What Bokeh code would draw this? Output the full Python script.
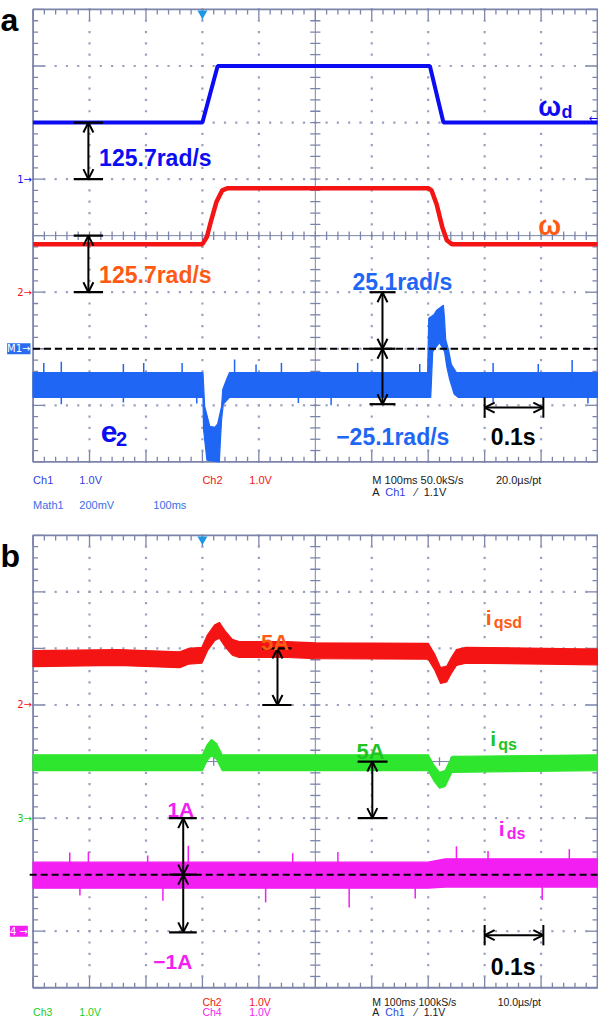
import numpy as np
from bokeh.plotting import figure
from bokeh.models import Range1d, Arrow, OpenHead, Label
from bokeh.layouts import column
from bokeh.embed import file_html
from bokeh.resources import INLINE

FONT = "Liberation Sans"

# ---------------- data: screen divisions (x 0..10, 0.1 s/div ; y -4..4) ----------------
# panel a
wd_t = [0.0, 3.0, 3.27, 7.03, 7.27, 10.0]
wd_v = [2.0, 2.0, 3.0, 3.0, 2.0, 2.0]

w_t = [0.0, 3.0, 3.08, 3.15, 3.25, 3.35, 3.45, 7.0, 7.06, 7.15, 7.25, 7.33, 7.42, 10.0]
w_v = [-0.15, -0.15, -0.02, 0.25, 0.6, 0.8, 0.84, 0.84, 0.8, 0.55, 0.15, -0.08, -0.15, -0.15]

e2_up_t = [0.0, 3.01, 3.04, 3.13, 3.22, 3.27, 3.34, 3.36, 3.43, 3.48,
           6.99, 7.01, 7.10, 7.15, 7.27, 7.29, 7.31, 7.36, 7.41, 7.50, 10.0]
e2_up_v = [-2.42, -2.42, -3.02, -3.37, -3.39, -3.33, -3.02, -2.72, -2.54, -2.42,
           -2.42, -1.46, -1.40, -1.32, -1.23, -1.49, -1.84, -2.02, -2.28, -2.42, -2.42]
e2_lo_t = [0.0, 3.01, 3.02, 3.08, 3.30, 3.32, 3.34, 3.37, 3.48,
           7.045, 7.06, 7.08, 7.20, 7.29, 7.33, 7.38, 7.46, 7.53, 10.0]
e2_lo_v = [-2.86, -2.86, -3.42, -3.97, -4.0, -3.6, -3.25, -2.98, -2.86,
           -2.86, -2.51, -2.05, -1.89, -2.05, -2.32, -2.54, -2.8, -2.86, -2.86]
e2_mid = -2.64
e2_spk_t = [0.19, 0.5, 1.6, 1.96, 2.64, 3.57, 3.95, 4.4, 5.75, 6.85, 8.15, 8.95, 9.55,
            0.5, 1.6, 2.9, 5.28, 8.15, 9.83, 4.7]
e2_spk_v = [-2.25, -2.23, -2.27, -2.25, -2.25, -2.19, -2.28, -2.25, -2.25, -2.27, -2.25, -2.27, -2.2,
            -2.98, -2.95, -2.97, -3.0, -2.95, -2.97, -2.96]

# panel b
iqsd_t = [0.0, 1.5, 2.6, 2.75, 2.99, 3.09, 3.22, 3.30, 3.41, 3.53, 3.65, 4.5, 5.0,
          7.0, 7.12, 7.22, 7.33, 7.41, 7.5, 7.67, 10.0]
iqsd_c = [1.82, 1.84, 1.80, 1.86, 1.88, 2.1, 2.28, 2.32, 2.16, 2.02, 1.98, 1.98, 1.96,
          1.95, 1.75, 1.52, 1.55, 1.7, 1.84, 1.88, 1.85]
iqsd_hw = 0.14

iqs_t = [0.0, 3.0, 3.08, 3.16, 3.25, 3.35, 7.0, 7.1, 7.2, 7.3, 7.42, 10.0]
iqs_c = [-0.02, -0.02, 0.15, 0.25, 0.18, -0.02, -0.02, -0.2, -0.33, -0.3, -0.05, -0.02]
iqs_hw = 0.14

ids_t = [0.0, 7.0, 7.3, 10.0]
ids_up = [-1.78, -1.78, -1.72, -1.72]
ids_lo = [-2.24, -2.24, -2.22, -2.22]
ids_mid = -2.0
ids_spk_t = [0.65, 0.98, 2.03, 2.75, 4.6, 5.4, 7.5, 8.06, 9.5, 0.83, 2.3, 4.12, 5.6, 6.77, 9.02]
ids_spk_v = [-1.61, -1.6, -1.66, -1.49, -1.62, -1.6, -1.5, -1.58, -1.55, -2.37, -2.46, -2.49, -2.58, -2.42, -2.45]

# colours
BLUE = "#0c0cf2"
E2BLUE = "#1f66f5"
RED = "#f51414"
ORANGE = "#ff5a14"
GREEN = "#2ee62e"
GREEN_T = "#22c422"
MAGENTA = "#f21ef2"
GRAT = "#7c84aa"


def new_fig(ybot, ytop, h):
    p = figure(width=598, height=h, x_range=Range1d(-0.577, 10.017), y_range=Range1d(ybot, ytop),
               output_backend="svg", toolbar_location=None, x_axis_location=None,
               y_axis_location=None, min_border=0, outline_line_color=None,
               background_fill_color="white", border_fill_color="white")
    for g in p.grid:
        g.visible = False
    return p


def graticule(p):
    dx, dy = [], []
    fine_y = np.round(np.arange(-4, 4.001, 0.2), 3)
    fine_x = np.round(np.arange(0, 10.001, 0.2), 3)
    for gx in [1, 2, 3, 4, 6, 7, 8, 9]:
        dx += [gx] * len(fine_y)
        dy += list(fine_y)
    for gy in [-3, -2, -1, 1, 2, 3]:
        dx += list(fine_x)
        dy += [gy] * len(fine_x)
    p.scatter(dx, dy, size=2.2, marker="square", fill_color="#9aa0be", line_color=None)
    p.segment([5, 0], [-4, 0], [5, 10], [4, 0], line_color=GRAT, line_width=1)
    x0, y0, x1, y1 = [], [], [], []
    for k in fine_x:
        x0.append(k); y0.append(-0.075); x1.append(k); y1.append(0.075)
    for k in fine_y:
        x0.append(5 - 0.09); y0.append(k); x1.append(5 + 0.09); y1.append(k)
    for k in fine_x:
        ln = 0.19 if abs(k - round(k)) < 1e-6 else 0.09
        x0 += [k, k]; y0 += [4, -4]; x1 += [k, k]; y1 += [4 - ln, -4 + ln]
    for k in fine_y:
        ln = 0.19 if abs(k - round(k)) < 1e-6 else 0.09
        x0 += [0, 10]; y0 += [k, k]; x1 += [ln, 10 - ln]; y1 += [k, k]
    p.segment(x0, y0, x1, y1, line_color=GRAT, line_width=1.3)
    p.quad(left=[0], right=[10], bottom=[-4], top=[4], fill_color=None, line_color=GRAT, line_width=1.8)
    p.scatter([3.0], [3.93], marker="inverted_triangle", size=10, fill_color="#1e96e6", line_color=None)


def lab(p, x, y, text, color="black", size=11, bold=False, align="left", baseline="alphabetic",
        font=FONT, bg=None):
    kw = {}
    if bg is not None:
        kw = dict(background_fill_color=bg, background_fill_alpha=1.0)
    p.add_layout(Label(x=x, y=y, text=text, text_color=color, text_font_size=f"{size}px",
                       text_font_style="bold" if bold else "normal", text_align=align,
                       text_baseline=baseline, text_font=font, **kw))


def darrow(p, x, ya, yb):
    p.add_layout(Arrow(x_start=x, y_start=ya, x_end=x, y_end=yb, line_width=2, line_color="black",
                       start=OpenHead(size=10, line_width=2, line_color="black"),
                       end=OpenHead(size=10, line_width=2, line_color="black")))


def harrow(p, y, xa, xb):
    p.add_layout(Arrow(x_start=xa, y_start=y, x_end=xb, y_end=y, line_width=2, line_color="black",
                       start=OpenHead(size=10, line_width=2, line_color="black"),
                       end=OpenHead(size=10, line_width=2, line_color="black")))


def bars(p, ys, xa, xb):
    p.segment([xa] * len(ys), ys, [xb] * len(ys), ys, line_color="black", line_width=2.2)


def band(p, t_up, v_up, t_lo, v_lo, color):
    xs = list(t_up) + list(t_lo)[::-1]
    ys = list(v_up) + list(v_lo)[::-1]
    p.patch(xs, ys, fill_color=color, line_color=color, line_width=1.2)


# ======================= panel a =======================
pa = new_fig(-4.860, 4.158, 510)
graticule(pa)
pa.line(wd_t, wd_v, line_color=BLUE, line_width=4)
pa.line(w_t, w_v, line_color=RED, line_width=4.5)
band(pa, e2_up_t, e2_up_v, e2_lo_t, e2_lo_v, E2BLUE)
pa.segment(e2_spk_t, [e2_mid] * len(e2_spk_t), e2_spk_t, e2_spk_v, line_color=E2BLUE, line_width=1.5)
pa.segment([0], [-2.0], [10], [-2.0], line_color="black", line_width=2, line_dash="7 4")

bars(pa, [2.0, 1.0], 0.72, 1.24)
darrow(pa, 0.98, 2.0, 1.0)
bars(pa, [0.0, -1.0], 0.72, 1.24)
darrow(pa, 0.98, 0.0, -1.0)
bars(pa, [-1.0, -2.0, -2.98], 5.96, 6.42)
darrow(pa, 6.19, -2.0, -1.0)
darrow(pa, 6.19, -2.0, -2.98)
harrow(pa, -3.04, 8.0, 9.04)
pa.segment([8.0, 9.04], [-2.86, -2.86], [8.0, 9.04], [-3.22, -3.22], line_color="black", line_width=2)

lab(pa, -0.577, 3.82, "a", size=32, bold=True)
lab(pa, 1.17, 1.37, "125.7rad/s", BLUE, 23, True)
lab(pa, 1.17, -0.70, "125.7rad/s", ORANGE, 23, True)
lab(pa, 5.66, -0.82, "25.1rad/s", E2BLUE, 23, True)
lab(pa, 5.37, -3.56, "\u221225.1rad/s", E2BLUE, 23, True)
lab(pa, 8.11, -3.56, "0.1s", "black", 23, True)
lab(pa, 1.20, -3.47, "e", BLUE, 30, True)
lab(pa, 1.47, -3.60, "2", BLUE, 20, True)
lab(pa, 8.95, 2.28, "\u03c9", BLUE, 27, True)
lab(pa, 9.36, 2.19, "d", BLUE, 18, True)
lab(pa, 8.95, 0.175, "\u03c9", ORANGE, 27, True)
lab(pa, 9.84, 2.07, "\u2190", BLUE, 11, font="DejaVu Sans", baseline="middle")

lab(pa, -0.02, 1.0, "1\u2192", BLUE, 10, align="right", baseline="middle", font="DejaVu Sans")
lab(pa, -0.02, -1.0, "2\u2192", RED, 10, align="right", baseline="middle", font="DejaVu Sans")
lab(pa, -0.46, -2.0, "M1\u2192", "white", 10, baseline="middle", font="DejaVu Sans", bg="#2a6cf0")

# status lines
lab(pa, 0.0, -4.32, "Ch1", "#2f3fe0")
lab(pa, 0.82, -4.32, "1.0V", "#2f3fe0")
lab(pa, 3.0, -4.32, "Ch2", RED)
lab(pa, 3.83, -4.32, "1.0V", RED)
lab(pa, 0.0, -4.76, "Math1", "#3a6ee8")
lab(pa, 0.82, -4.76, "200mV", "#3a6ee8")
lab(pa, 2.13, -4.76, "100ms", "#3a6ee8")
lab(pa, 6.01, -4.32, "M 100ms 50.0kS/s", "#202020")
lab(pa, 8.2, -4.32, "20.0\u00b5s/pt", "#202020")
lab(pa, 6.01, -4.53, "A", "#202020")
lab(pa, 6.24, -4.53, "Ch1", "#2f3fe0")
lab(pa, 6.77, -4.53, "\u2044", "#202020")
lab(pa, 6.92, -4.53, "1.1V", "#202020")

# ======================= panel b =======================
pb = new_fig(-4.579, 4.439, 510)
graticule(pb)
band(pb, iqsd_t, [c + iqsd_hw for c in iqsd_c], iqsd_t, [c - iqsd_hw for c in iqsd_c], RED)
band(pb, iqs_t, [c + iqs_hw for c in iqs_c], iqs_t, [c - iqs_hw for c in iqs_c], GREEN)
band(pb, ids_t, ids_up, ids_t, ids_lo, MAGENTA)
pb.segment(ids_spk_t, [ids_mid] * len(ids_spk_t), ids_spk_t, ids_spk_v, line_color=MAGENTA, line_width=1.5)
pb.segment([-0.06], [-2.0], [10], [-2.0], line_color="black", line_width=2, line_dash="7 4")

bars(pb, [2.0, 1.0], 4.06, 4.58)
darrow(pb, 4.33, 2.0, 1.0)
bars(pb, [0.0, -1.0], 5.75, 6.28)
darrow(pb, 6.01, 0.0, -1.0)
bars(pb, [-1.0, -2.0, -3.02], 2.41, 2.9)
darrow(pb, 2.66, -2.0, -1.0)
darrow(pb, 2.66, -2.0, -3.02)
harrow(pb, -3.07, 8.0, 9.04)
pb.segment([8.0, 9.04], [-2.89, -2.89], [8.0, 9.04], [-3.25, -3.25], line_color="black", line_width=2)

lab(pb, -0.577, 3.63, "b", size=32, bold=True)
lab(pb, 4.04, 2.11, "5A", ORANGE, 22, True)
lab(pb, 5.73, 0.175, "5A", GREEN_T, 22, True)
lab(pb, 2.38, -0.84, "1A", MAGENTA, 21, True)
lab(pb, 2.13, -3.54, "\u22121A", MAGENTA, 21, True)
lab(pb, 8.11, -3.63, "0.1s", "black", 23, True)
lab(pb, 8.02, 2.54, "i", ORANGE, 21, True)
lab(pb, 8.16, 2.46, "qsd", ORANGE, 16, True)
lab(pb, 8.10, 0.40, "i", GREEN_T, 21, True)
lab(pb, 8.24, 0.30, "qs", GREEN_T, 16, True)
lab(pb, 8.25, -1.18, "i", MAGENTA, 21, True)
lab(pb, 8.39, -1.28, "ds", MAGENTA, 16, True)

lab(pb, -0.02, 1.0, "2\u2192", RED, 10, align="right", baseline="middle", font="DejaVu Sans")
lab(pb, -0.02, -1.0, "3\u2192", "#22cc22", 10, align="right", baseline="middle", font="DejaVu Sans")
lab(pb, -0.41, -3.0, "4 \u2192", "white", 10, baseline="middle", font="DejaVu Sans", bg=MAGENTA)

lab(pb, 3.0, -4.25, "Ch2", RED, 10.5)
lab(pb, 3.83, -4.25, "1.0V", RED, 10.5)
lab(pb, 0.0, -4.43, "Ch3", "#22cc22", 10.5)
lab(pb, 0.82, -4.43, "1.0V", "#22cc22", 10.5)
lab(pb, 3.0, -4.43, "Ch4", MAGENTA, 10.5)
lab(pb, 3.83, -4.43, "1.0V", MAGENTA, 10.5)
lab(pb, 6.01, -4.25, "M 100ms 100kS/s", "#202020", 10.5)
lab(pb, 8.23, -4.25, "10.0\u00b5s/pt", "#202020", 10.5)
lab(pb, 6.01, -4.43, "A", "#202020", 10.5)
lab(pb, 6.24, -4.43, "Ch1", "#2f3fe0", 10.5)
lab(pb, 6.77, -4.43, "\u2044", "#202020", 10.5)
lab(pb, 6.92, -4.43, "1.1V", "#202020", 10.5)

layout = column(pa, pb)
open("out.html", "w").write(file_html(layout, INLINE))
